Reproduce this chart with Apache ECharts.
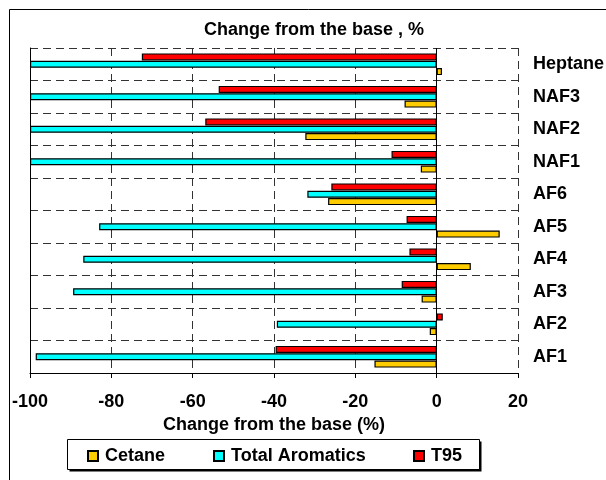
<!DOCTYPE html>
<html>
<head>
<meta charset="utf-8">
<script src="https://cdn.jsdelivr.net/npm/echarts@6/dist/echarts.min.js"></script>
<style>
  html, body { margin: 0; padding: 0; background: #fff; }
  #chart { width: 606px; height: 480px; }
</style>
</head>
<body>
<div id="chart"></div>
<script>
// Fuels, listed from the bottom of the chart to the top
const categories = ['AF1', 'AF2', 'AF3', 'AF4', 'AF5', 'AF6', 'NAF1', 'NAF2', 'NAF3', 'Heptane'];
// Change from the base fuel, %
const cetane    = [-15.3, -1.7, -3.7, 8.4, 15.5, -26.7, -3.9, -32.3, -7.9, 1.3];
const aromatics = [-98.6, -39.3, -89.4, -86.9, -83.0, -31.8, -100, -100, -100, -100];
const t95       = [-39.6, 1.5, -8.6, -6.7, -7.4, -25.9, -11.1, -56.9, -53.6, -72.5];
const seriesNames = ['Cetane', 'Total Aromatics', 'T95'];
const xTicks = { min: -100, max: 20, step: 20 };

const FONT = '"Liberation Sans", Arial, sans-serif';
const FS = 18;
const colors = { 'Cetane': '#FFCC00', 'Total Aromatics': '#00FFFF', 'T95': '#FF0000' };
const dash = { type: [8, 5], color: '#333', width: 1 };

const chart = echarts.init(document.getElementById('chart'), null, { renderer: 'canvas' });

function barSeries(name, data) {
  return {
    name: name,
    type: 'bar',
    data: data,
    barWidth: 7,
    barGap: '5%',
    itemStyle: { color: colors[name], borderColor: '#000', borderWidth: 1.2 },
    emphasis: { disabled: true },
    animation: false
  };
}

function legendItem(name, left) {
  return {
    data: [name],
    left: left,
    top: 447,
    padding: 0,
    itemWidth: 10,
    itemHeight: 10,
    itemGap: 0,
    icon: 'rect',
    selectedMode: false,
    textStyle: { fontFamily: FONT, fontWeight: 'bold', fontSize: FS, color: '#000', padding: [0, 0, 0, 2] }
  };
}

// Within each fuel the bars stack top-down as T95, Total Aromatics, Cetane;
// a horizontal bar group is laid out bottom-up, so the series go in reverse.
const series = [
  barSeries(seriesNames[2], t95),
  barSeries(seriesNames[1], aromatics),
  barSeries(seriesNames[0], cetane)
];
// Solid reference line at zero change
series[0].markLine = {
  silent: true,
  symbol: 'none',
  label: { show: false },
  lineStyle: { color: '#000', type: 'solid', width: 1 },
  data: [{ xAxis: 0 }],
  animation: false
};

const textBase = { fontFamily: FONT, fontWeight: 'bold', fontSize: FS, color: '#000' };

chart.setOption({
  backgroundColor: '#fff',
  animation: false,
  title: {
    text: 'Change from the base , %',
    left: 309,
    top: 16,
    textAlign: 'center',
    textStyle: textBase
  },
  legend: [
    legendItem(seriesNames[0], 87),
    legendItem(seriesNames[1], 213),
    legendItem(seriesNames[2], 413)
  ],
  grid: { left: 30, right: 88, top: 48, bottom: 107, outerBoundsMode: 'none', containLabel: false },
  xAxis: {
    type: 'value',
    min: xTicks.min,
    max: xTicks.max,
    interval: xTicks.step,
    name: 'Change from the base (%)',
    nameLocation: 'middle',
    nameGap: 42,
    nameTextStyle: Object.assign({ verticalAlign: 'top' }, textBase),
    axisLine: { show: true, onZero: false, lineStyle: { color: '#000', width: 1 } },
    axisTick: { show: true, length: 5, inside: false, lineStyle: { color: '#000' } },
    axisLabel: Object.assign({ margin: 20 }, textBase),
    splitLine: { show: true, lineStyle: dash }
  },
  yAxis: [
    {
      type: 'category',
      data: categories,
      position: 'right',
      axisLine: { show: false, onZero: false },
      axisTick: { show: false },
      axisLabel: Object.assign({ margin: 15, align: 'left' }, textBase),
      splitLine: { show: true, interval: 0, lineStyle: dash }
    },
    {
      type: 'category',
      data: categories,
      position: 'left',
      axisLine: { show: true, onZero: false, lineStyle: { color: '#000', width: 1 } },
      axisTick: { show: false },
      axisLabel: { show: false },
      splitLine: { show: false }
    }
  ],
  graphic: [
    // outer chart frame
    { type: 'rect', z: -10, silent: true,
      shape: { x: 9.5, y: 9.5, width: 700, height: 600 },
      style: { fill: '#fff', stroke: '#000', lineWidth: 1 } },
    // legend box with drop shadow
    { type: 'rect', z: -5, silent: true,
      shape: { x: 69.5, y: 441.5, width: 412, height: 30 },
      style: { fill: '#000' } },
    { type: 'rect', z: -4, silent: true,
      shape: { x: 67.5, y: 439.5, width: 412, height: 30 },
      style: { fill: '#fff', stroke: '#000', lineWidth: 1 } }
  ],
  series: series
});
</script>
</body>
</html>
